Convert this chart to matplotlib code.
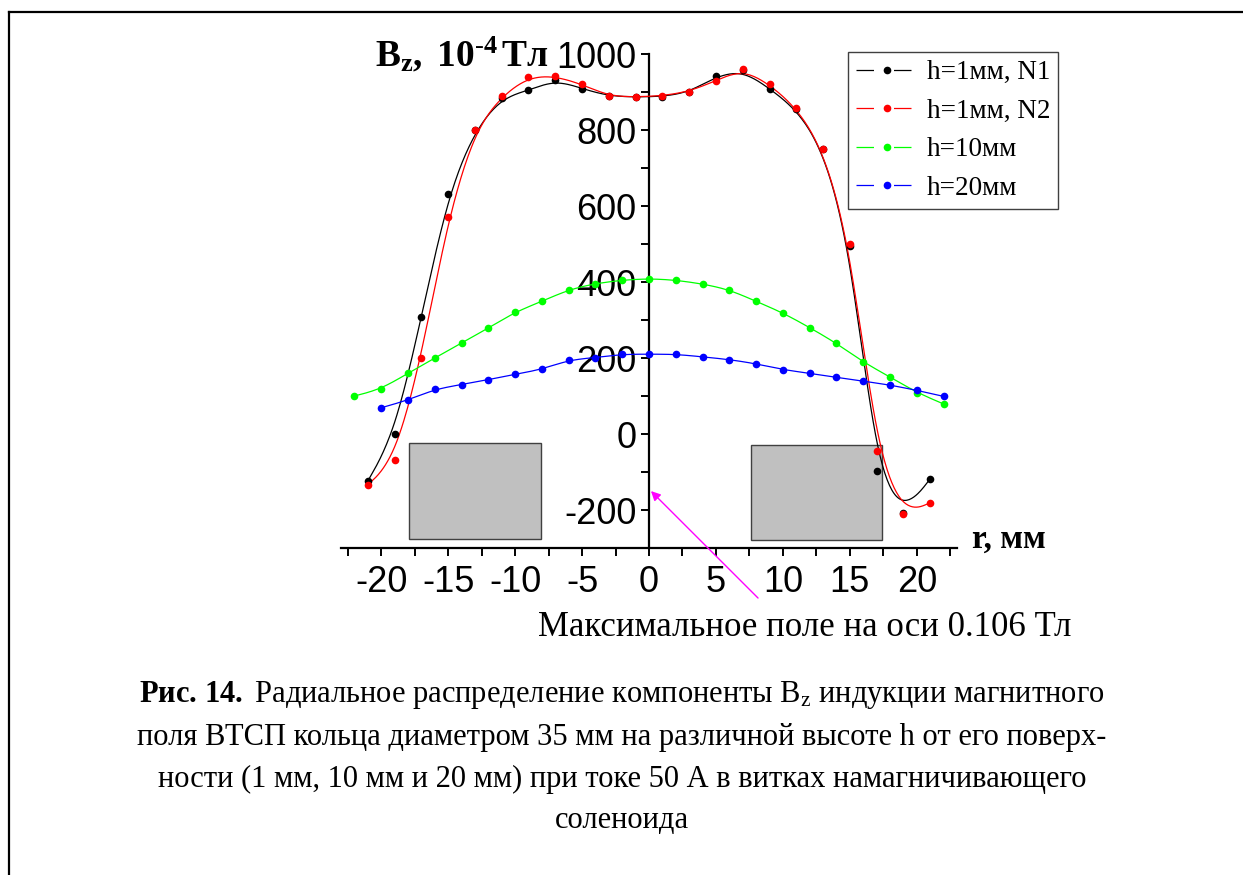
import numpy as np
import matplotlib
matplotlib.use("Agg")
import matplotlib.pyplot as plt
from matplotlib.patches import Rectangle
from matplotlib.lines import Line2D
from matplotlib.ticker import MultipleLocator

plt.rcParams["font.family"] = ["Liberation Serif", "DejaVu Serif"]
plt.rcParams["mathtext.fontset"] = "custom"
plt.rcParams["mathtext.rm"] = "Liberation Serif"
plt.rcParams["mathtext.it"] = "Liberation Serif:italic"
plt.rcParams["mathtext.bf"] = "Liberation Serif:bold"
plt.rcParams["axes.unicode_minus"] = False

# Data (r in mm, Bz in 1e-4 T)
r_odd = [-21, -19, -17, -15, -13, -11, -9, -7, -5, -3, -1, 1, 3, 5, 7, 9, 11, 13, 15, 17, 19, 21]
bz_1mm_n1 = [-124, 0, 307, 631, 800, 885, 904, 932, 909, 889, 887, 888, 899, 941, 957, 909, 855, 750, 495, -97, -208, -118]
bz_1mm_n2 = [-134, -68, 201, 570, 800, 889, 940, 942, 920, 889, 887, 890, 901, 930, 960, 920, 859, 751, 500, -45, -211, -181]

r_10mm = [-22, -20, -18, -16, -14, -12, -10, -8, -6, -4, -2, 0, 2, 4, 6, 8, 10, 12, 14, 16, 18, 20, 22]
bz_10mm = [100, 118, 160, 200, 239, 279, 321, 349, 380, 396, 405, 409, 405, 395, 380, 349, 319, 280, 239, 189, 150, 109, 79]

r_20mm = [-20, -18, -16, -14, -12, -10, -8, -6, -4, -2, 0, 2, 4, 6, 8, 10, 12, 14, 16, 18, 20, 22]
bz_20mm = [69, 89, 118, 130, 143, 157, 170, 195, 201, 210, 210, 210, 203, 196, 185, 169, 160, 149, 139, 129, 115, 99]

labels = ["h=1мм, N1", "h=1мм, N2", "h=10мм", "h=20мм"]
colors = ["black", "#ff0000", "#00ff00", "#0000ff"]


def bspline(x, y, n=24):
    # uniform cubic B-spline with the points as control points (like Origin's B-spline line)
    px = np.concatenate([[x[0]] * 2, x, [x[-1]] * 2]).astype(float)
    py = np.concatenate([[y[0]] * 2, y, [y[-1]] * 2]).astype(float)
    t = np.linspace(0, 1, n)
    b0 = (1 - t) ** 3 / 6
    b1 = (3 * t**3 - 6 * t**2 + 4) / 6
    b2 = (-3 * t**3 + 3 * t**2 + 3 * t + 1) / 6
    b3 = t**3 / 6
    xs, ys = [], []
    for i in range(len(px) - 3):
        xs.append(b0 * px[i] + b1 * px[i + 1] + b2 * px[i + 2] + b3 * px[i + 3])
        ys.append(b0 * py[i] + b1 * py[i + 1] + b2 * py[i + 2] + b3 * py[i + 3])
    return np.concatenate(xs), np.concatenate(ys)


W, H = 1243, 875
fig = plt.figure(figsize=(W / 100, H / 100), dpi=100)
ax = fig.add_axes([341 / W, (H - 548) / H, 616 / W, 494 / H])
ax.patch.set_alpha(0)

series = [
    (r_odd, bz_1mm_n1),
    (r_odd, bz_1mm_n2),
    (r_10mm, bz_10mm),
    (r_20mm, bz_20mm),
]
for (x, y), c in zip(series, colors):
    sx, sy = bspline(np.array(x), np.array(y))
    ax.plot(sx, sy, color=c, lw=0.9, zorder=3)
    ax.plot(x, y, "o", color=c, ms=5.5, mec="none", zorder=4)

# ring cross-sections
ax.add_patch(Rectangle((-17.9, -276), 9.8, 252, fc="#c0c0c0", ec="#404040", lw=1, zorder=1))
ax.add_patch(Rectangle((7.6, -280), 9.8, 252, fc="#c0c0c0", ec="#404040", lw=1, zorder=1))

ax.set_xlim(-23, 23)
ax.set_ylim(-300, 1000)
ax.spines["left"].set_position(("data", 0))
ax.spines["top"].set_visible(False)
ax.spines["right"].set_visible(False)
for s in ("left", "bottom"):
    ax.spines[s].set_linewidth(1.6)
ax.xaxis.set_major_locator(MultipleLocator(5))
ax.xaxis.set_minor_locator(MultipleLocator(2.5))
ax.set_yticks([-200, 0, 200, 400, 600, 800, 1000])
ax.yaxis.set_minor_locator(MultipleLocator(100))
ax.tick_params(which="both", direction="out", length=6, width=1.4, zorder=5)
ax.tick_params(axis="both", which="major", labelsize=26, pad=3)
ax.tick_params(axis="x", which="major", pad=6)
for lab in ax.get_xticklabels() + ax.get_yticklabels():
    lab.set_family("Liberation Sans")

fig.text(375 / W, (H - 66) / H, r"$\mathbf{B_z,\ 10^{\text{-}4}\,Тл}$", fontsize=27, ha="left", va="baseline")
fig.text(972 / W, (H - 548) / H, "r, мм", fontsize=24, fontweight="bold", ha="left", va="baseline")

handles = [
    Line2D([], [], color=c, lw=0.9, marker="o", ms=5.5, mec="none", dashes=(14, 16))
    for c in colors
]
leg = fig.legend(
    handles, labels, loc="upper left", bbox_to_anchor=(848 / W, (H - 52) / H),
    fontsize=19.5, numpoints=1, handlelength=2.3, handletextpad=0.3, labelspacing=0.5,
    borderpad=0.3, borderaxespad=0, fancybox=False, framealpha=1,
)
leg.get_frame().set_edgecolor("#404040")
leg.get_frame().set_linewidth(1.0)

ax.annotate(
    "", xy=(0, -145), xycoords="data", xytext=(760, H - 600), textcoords="figure pixels",
    arrowprops=dict(arrowstyle="-|>", color="#ff00ff", lw=1, mutation_scale=14), annotation_clip=False,
)
fig.text(805 / W, (H - 628) / H, "Максимальное поле на оси 0.106 Тл", fontsize=25, ha="center", va="center")

caption = [
    r"$\mathbf{Рис.\,14.}$ Радиальное распределение компоненты B$_\mathrm{z}$ индукции магнитного",
    "поля ВТСП кольца диаметром 35 мм на различной высоте h от его поверх-",
    "ности (1 мм, 10 мм и 20 мм) при токе 50 А в витках намагничивающего",
    "соленоида",
]
for i, line in enumerate(caption):
    fig.text(622 / W, (H - 695 - 42 * i) / H, line, fontsize=22, ha="center", va="center")

# page frame (top and left edges)
fig.add_artist(Line2D([9 / W, 9 / W], [0, (H - 12) / H], color="black", lw=1.6, transform=fig.transFigure))
fig.add_artist(Line2D([9 / W, 1], [(H - 12) / H, (H - 12) / H], color="black", lw=1.6, transform=fig.transFigure))

fig.savefig("out.png", dpi=100)
